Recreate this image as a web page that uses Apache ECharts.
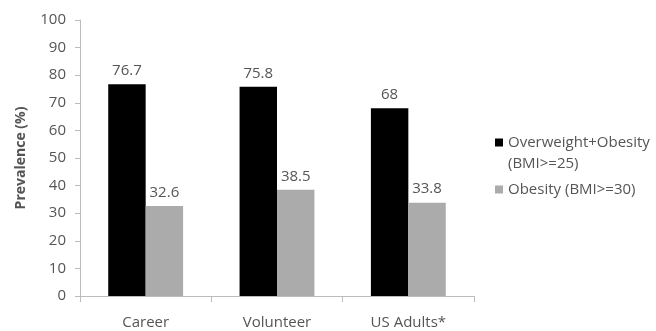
<!DOCTYPE html>
<html>
<head>
<meta charset="utf-8">
<script src="https://cdn.jsdelivr.net/npm/echarts@6/dist/echarts.min.js"></script>
<style>
  html, body { margin: 0; padding: 0; background: #fff; }
  #chart { width: 656px; height: 331px; }
</style>
</head>
<body>
<div id="chart"></div>
<script>
// data
let categories = ['Career', 'Volunteer', 'US Adults*']
let overweightObesity = [76.7, 75.8, 68]
let obesity = [32.6, 38.5, 33.8]
let seriesNames = ['Overweight+Obesity\n(BMI>=25)', 'Obesity (BMI>=30)']

let textColor = '#555555'
let axisColor = '#bcbcbc'
let fontFamily = '"Open Sans", "Liberation Sans", sans-serif'

let chart = echarts.init(document.querySelector('#chart'))

let chartOption = {
  animation: false,
  textStyle: { fontFamily: fontFamily },
  grid: { left: 80, right: 182, top: 20, bottom: 35 },
  legend: {
    orient: 'vertical',
    left: 495,
    top: 111,
    padding: 0,
    itemWidth: 8,
    itemHeight: 8,
    itemGap: 5,
    icon: 'rect',
    textStyle: { color: textColor, fontSize: 15, fontFamily: fontFamily, lineHeight: 21 },
    // 两行的图例前面加一个空行，让图标对齐第一行
    formatter: function (name) {
      return name.indexOf('\n') > -1 ? ' \n' + name : name
    },
    data: seriesNames
  },
  xAxis: {
    type: 'category',
    data: categories,
    axisLine: { lineStyle: { color: axisColor } },
    axisTick: { show: true, length: 6, lineStyle: { color: axisColor } },
    axisLabel: { color: textColor, fontSize: 15, margin: 19 }
  },
  yAxis: {
    type: 'value',
    min: 0,
    max: 100,
    interval: 10,
    name: 'Prevalence (%)',
    nameLocation: 'middle',
    nameGap: 52,
    nameTextStyle: { color: textColor, fontSize: 14, fontWeight: 'bold' },
    axisLine: { show: true, lineStyle: { color: axisColor } },
    axisTick: { show: true, length: 5, lineStyle: { color: axisColor } },
    axisLabel: { color: textColor, fontSize: 15, margin: 14 },
    splitLine: { show: false }
  },
  series: [
    {
      type: 'bar',
      name: seriesNames[0],
      data: overweightObesity,
      barGap: '0%',
      barCategoryGap: '43%',
      itemStyle: { color: '#000000' },
      label: { show: true, position: 'top', color: textColor, fontSize: 15, distance: 6 }
    },
    {
      type: 'bar',
      name: seriesNames[1],
      data: obesity,
      itemStyle: { color: '#ababab' },
      label: { show: true, position: 'top', color: textColor, fontSize: 15, distance: 6 }
    }
  ]
}

chart.setOption(chartOption)
</script>
</body>
</html>
